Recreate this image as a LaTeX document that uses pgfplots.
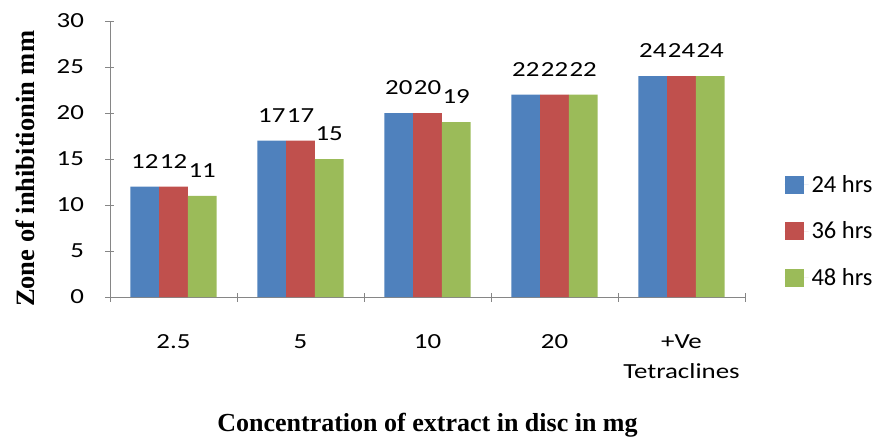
\documentclass[border=0pt]{standalone}
\usepackage{fontspec}
\setmainfont{Carlito}
\newfontfamily\wide[FakeStretch=1.25]{Carlito}
\newfontfamily\tnr{Liberation Serif}
\usepackage{pgfplots}
\pgfplotsset{compat=1.18}

\definecolor{s24}{HTML}{4F81BD}
\definecolor{s36}{HTML}{C0504D}
\definecolor{s48}{HTML}{9BBB59}
\definecolor{axgray}{HTML}{868686}

\newcommand{\lblfont}{\wide\fontsize{21.5}{30}\selectfont}

\begin{document}
\begin{tikzpicture}
\begin{axis}[
  scale only axis,
  width=635pt, height=276pt,
  at={(0pt,0pt)}, anchor=south west,
  ybar=0pt, bar width=28.7pt,
  xmin=-0.5, xmax=4.5,
  ymin=0, ymax=30,
  ytick={0,5,...,30},
  xtick={0,1,2,3,4},
  xticklabels={2.5,5,10,20,{+Ve\\Tetraclines}},
  minor xtick={-0.5,0.5,1.5,2.5,3.5,4.5},
  major x tick style={draw=none},
  tick align=outside,
  major tick length=9pt, minor tick length=9pt,
  tick style={axgray, line width=0.9pt},
  axis x line=bottom, axis y line=left,
  axis line style={axgray, line width=0.9pt, -},
  /pgf/number format/assume math mode=true,
  tick label style={font=\lblfont, black},
  yticklabel style={anchor=east, xshift=-18pt},
  xticklabel style={align=center, anchor=north, yshift=-30pt},
  xlabel={\tnr\bfseries Concentration of extract in disc in mg},
  xlabel style={font=\fontsize{26}{30}\selectfont, at={(axis description cs:0.5,-0.489)}, anchor=base},
  ylabel={\tnr\bfseries Zone of inhibitionin mm},
  ylabel style={font=\fontsize{26.5}{30}\selectfont, at={(axis description cs:-0.134,0.464)}, anchor=center},
  nodes near coords,
  every node near coord/.append style={font=\lblfont, black, anchor=base, inner sep=0pt, yshift=18.5pt},
  % square swatch followed by a little blank room before the text
  legend image code/.code={\path[#1, draw=none] (0pt,-9pt) rectangle (19pt,9pt); \path (0pt,0pt) -- (24pt,0pt);},
  legend style={draw=none, fill=none, font=\fontsize{24.5}{28}\selectfont, at={(axis description cs:1.062,0.239)}, anchor=west,
    row sep=22pt, inner sep=0pt, nodes={inner sep=3pt}},
  legend cell align=left,
]
\addplot[fill=s24, draw=none] coordinates {(0,12) (1,17) (2,20) (3,22) (4,24)};
\addplot[fill=s36, draw=none] coordinates {(0,12) (1,17) (2,20) (3,22) (4,24)};
\addplot[fill=s48, draw=none] coordinates {(0,11) (1,15) (2,19) (3,22) (4,24)};
\legend{24 hrs, 36 hrs, 48 hrs}
\end{axis}
\useasboundingbox (-110pt,-139pt) rectangle (768pt,297pt);
\end{tikzpicture}
\end{document}
